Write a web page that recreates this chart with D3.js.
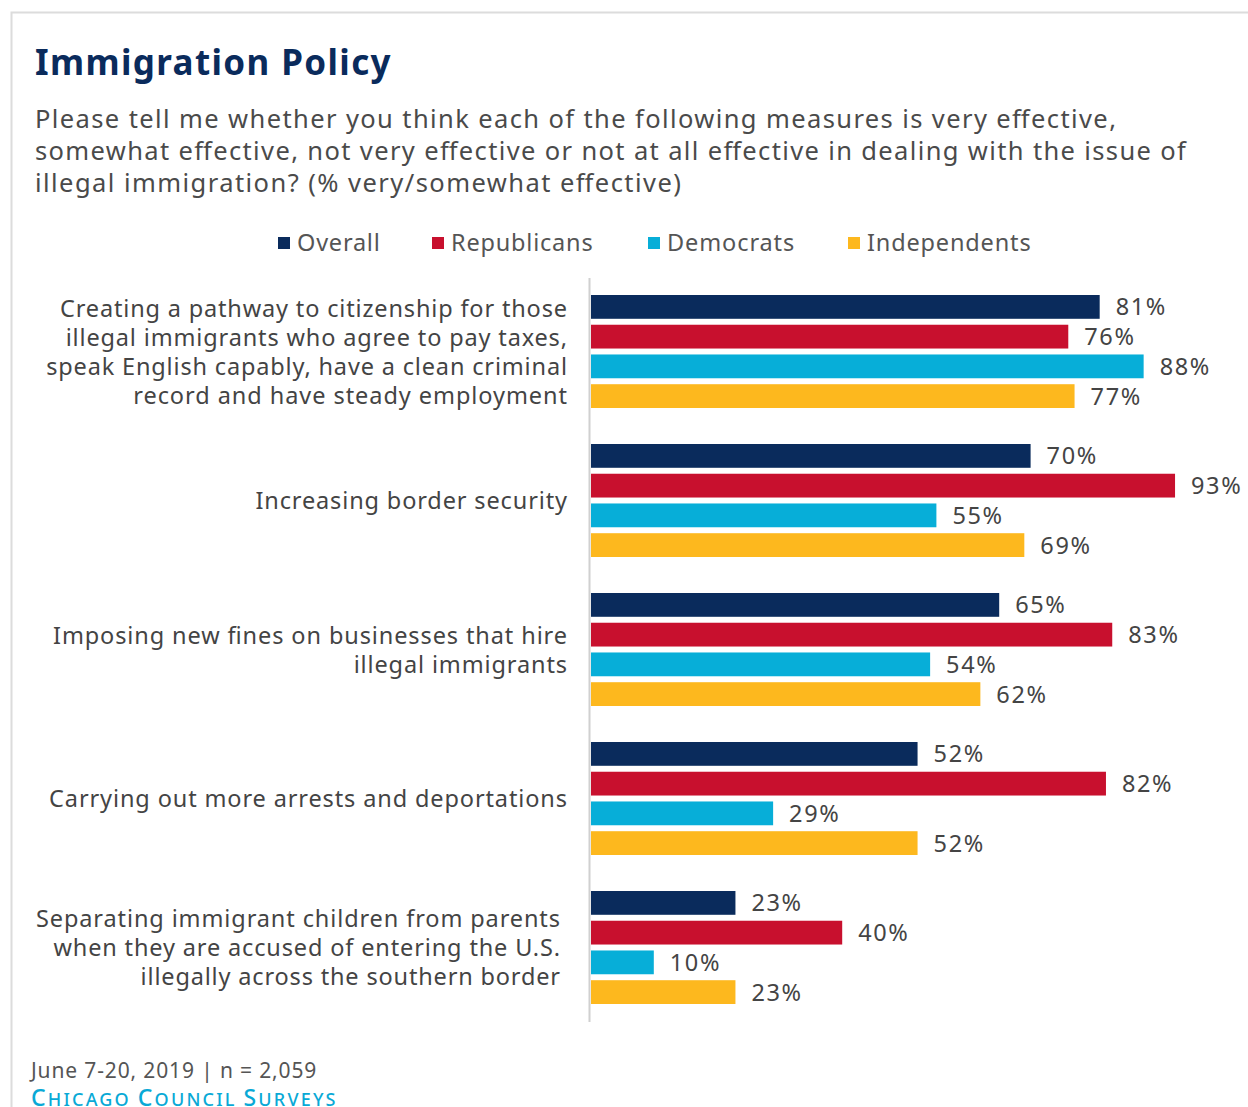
<!DOCTYPE html>
<html><head><meta charset="utf-8">
<script src="https://cdn.jsdelivr.net/npm/d3@7"></script>
<style>
html,body{margin:0;padding:0;background:#fff;}
svg{display:block;}
</style></head>
<body>
<script>
const categories = [
  ["Creating a pathway to citizenship for those","illegal immigrants who agree to pay taxes,","speak English capably, have a clean criminal","record and have steady employment"],
  ["Increasing border security"],
  ["Imposing new fines on businesses that hire","illegal immigrants"],
  ["Carrying out more arrests and deportations"],
  ["Separating immigrant children from parents","when they are accused of entering the U.S.","illegally across the southern border"]
];
const seriesNames = ["Overall","Republicans","Democrats","Independents"];
const overall = [81,70,65,52,23];
const republicans = [76,93,83,82,40];
const democrats = [88,55,54,29,10];
const independents = [77,69,62,52,23];
const colors = ["#0a2b5c","#c8102e","#07aed8","#fdb81e"];
const values = [overall, republicans, democrats, independents];

const W = 1248, H = 1107;
const font = "'Noto Sans', sans-serif";
const svg = d3.select("body").append("svg").attr("width", W).attr("height", H);

function fitTo(sel, target){
  // stretch each text so that its width equals target factor * natural width
  sel.each(function(){
    const L = this.getComputedTextLength();
    d3.select(this).attr("textLength", L*target).attr("lengthAdjust","spacing");
  });
}

// frame
svg.append("path").attr("d", `M11.5,${H} V12.5 H${W}`).attr("fill","none").attr("stroke","#dcdcdc").attr("stroke-width",2);

svg.append("text").attr("x",35).attr("y",75).text("Immigration Policy")
  .attr("font-family",font).attr("font-weight",700).attr("font-size",35).attr("fill","#0a2b5c")
  .call(fitTo,1.07);

const sub = ["Please tell me whether you think each of the following measures is very effective,",
 "somewhat effective, not very effective or not at all effective in dealing with the issue of",
 "illegal immigration? (% very/somewhat effective)"];
svg.append("g").selectAll("text").data(sub).join("text")
  .attr("x",35).attr("y",(d,i)=>128+i*32).text(d=>d)
  .attr("font-family",font).attr("font-size",25.5).attr("fill","#4a4a4a")
  .call(fitTo,1.115);

// legend
const legX = [278,432,648,848];
const leg = svg.append("g").selectAll("g").data(seriesNames).join("g")
  .attr("transform",(d,i)=>`translate(${legX[i]},0)`);
leg.append("rect").attr("x",0).attr("y",237).attr("width",12).attr("height",12).attr("fill",(d,i)=>colors[i]);
leg.append("text").attr("x",19).attr("y",251).text(d=>d)
  .attr("font-family",font).attr("font-size",23.5).attr("fill","#555")
  .call(fitTo,1.06);

// scales
const x = d3.scaleLinear().domain([0,100]).range([591,1219]);
const y0 = d3.scaleBand().domain(d3.range(categories.length)).range([295,1040]).paddingInner(0).paddingOuter(0);
const groupH = 113;
const y1 = d3.scaleBand().domain(d3.range(4)).range([0,groupH]).paddingInner(0.2).paddingOuter(0);

const groups = svg.append("g").selectAll("g").data(categories).join("g")
  .attr("transform",(d,i)=>`translate(0,${y0(i)})`);

groups.each(function(cat, gi){
  const g = d3.select(this);
  const data = values.map((s,si)=>({si, v:s[gi]}));
  g.selectAll("rect").data(data).join("rect")
    .attr("x",x(0)).attr("y",d=>y1(d.si)).attr("width",d=>x(d.v)-x(0)).attr("height",y1.bandwidth())
    .attr("fill",d=>colors[d.si]);
  g.selectAll("text.val").data(data).join("text").attr("class","val")
    .attr("x",d=>x(d.v)+16).attr("y",d=>y1(d.si)+y1.bandwidth()/2+8.5).text(d=>d.v+"%")
    .attr("font-family",font).attr("font-size",23.5).attr("fill","#444")
    .call(fitTo,1.07);
  const n = cat.length;
  const cx = groupH/2 + 8.5;
  const rx = gi===4 ? 560 : 567;
  g.selectAll("text.cat").data(cat).join("text").attr("class","cat")
    .attr("x",rx).attr("y",(d,i)=>cx + (i-(n-1)/2)*29).attr("text-anchor","end").text(d=>d)
    .attr("font-family",font).attr("font-size",23.5).attr("fill","#444")
    .call(fitTo,1.075);
});

// axis line
svg.append("line").attr("x1",589.5).attr("x2",589.5).attr("y1",278).attr("y2",1022)
  .attr("stroke","#d0d0d0").attr("stroke-width",2);

svg.append("text").attr("x",31).attr("y",1078).text("June 7-20, 2019 | n = 2,059")
  .attr("font-family",font).attr("font-size",21).attr("fill","#555")
  .call(fitTo,1.085);
const brand = svg.append("text").attr("x",31).attr("y",1106)
  .attr("font-family",font).attr("font-size",23).attr("fill","#09a9d6").attr("font-weight",500)
  .attr("letter-spacing",2.2);
[["C",23],["HICAGO ",18],["C",23],["OUNCIL ",18],["S",23],["URVEYS",18]].forEach(([t,s])=>{
  brand.append("tspan").attr("font-size",s).text(t);
});
</script>
</body></html>
